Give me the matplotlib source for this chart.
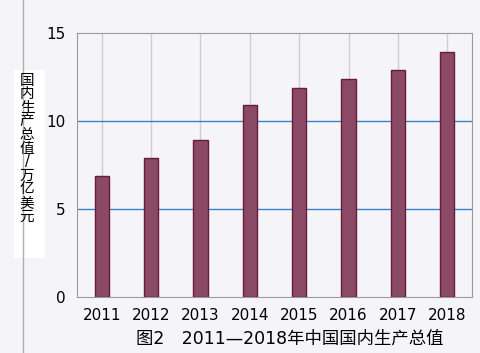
import matplotlib.pyplot as plt
from matplotlib.patches import Rectangle

plt.rcParams['font.family'] = ['DejaVu Sans', 'Noto Sans CJK SC']

years = ['2011', '2012', '2013', '2014', '2015', '2016', '2017', '2018']
gdp = [6.9, 7.9, 8.9, 10.9, 11.9, 12.4, 12.9, 13.9]
ylabel = '国内生产总值/万亿美元'
caption = '图2\u30002011—2018年中国国内生产总值'

fig = plt.figure(figsize=(4.81, 3.53), dpi=100)
fig.patch.set_facecolor('#f5f4f9')
ax = fig.add_axes([77/481, 1-297/353, 395/481, 264/353])
ax.set_facecolor('#f5f4f9')

x = list(range(len(years)))
# vertical light grid lines at the categories
for xi in x:
    ax.axvline(xi, color='#cfcfcf', lw=1, zorder=1)
for yv in [5, 10]:
    ax.axhline(yv, color='#3c84c6', lw=1, zorder=1)

ax.bar(x, gdp, width=0.29, color='#8a4a66', edgecolor='#6a1a3c', lw=1, zorder=3)

ax.set_xlim(-0.5, 7.5)
ax.set_ylim(0, 15)
ax.set_yticks([0, 5, 10, 15])
ax.set_xticks(x)
ax.set_xticklabels(years)
ax.tick_params(length=0, labelsize=11, pad=8)
ax.tick_params(axis='y', pad=8.5)
for s in ax.spines.values():
    s.set_color('#9a9a9a')

# left border line and y label box
fig.add_artist(plt.Line2D([23/481, 23/481], [0, 1], color='#b0b0b0', lw=1))
fig.add_artist(Rectangle((14/481, 1-258/353), 31/481, 188/353,
                         transform=fig.transFigure, facecolor='white',
                         edgecolor='none'))
fig.text(27/481, 1-148/353, '\n'.join(ylabel), ha='center', va='center',
         fontsize=10.5, linespacing=0.88)

fig.text(290/481, 1-339/353, caption, ha='center', va='center', fontsize=12.5)

plt.savefig('out.png', dpi=100, facecolor=fig.get_facecolor())
